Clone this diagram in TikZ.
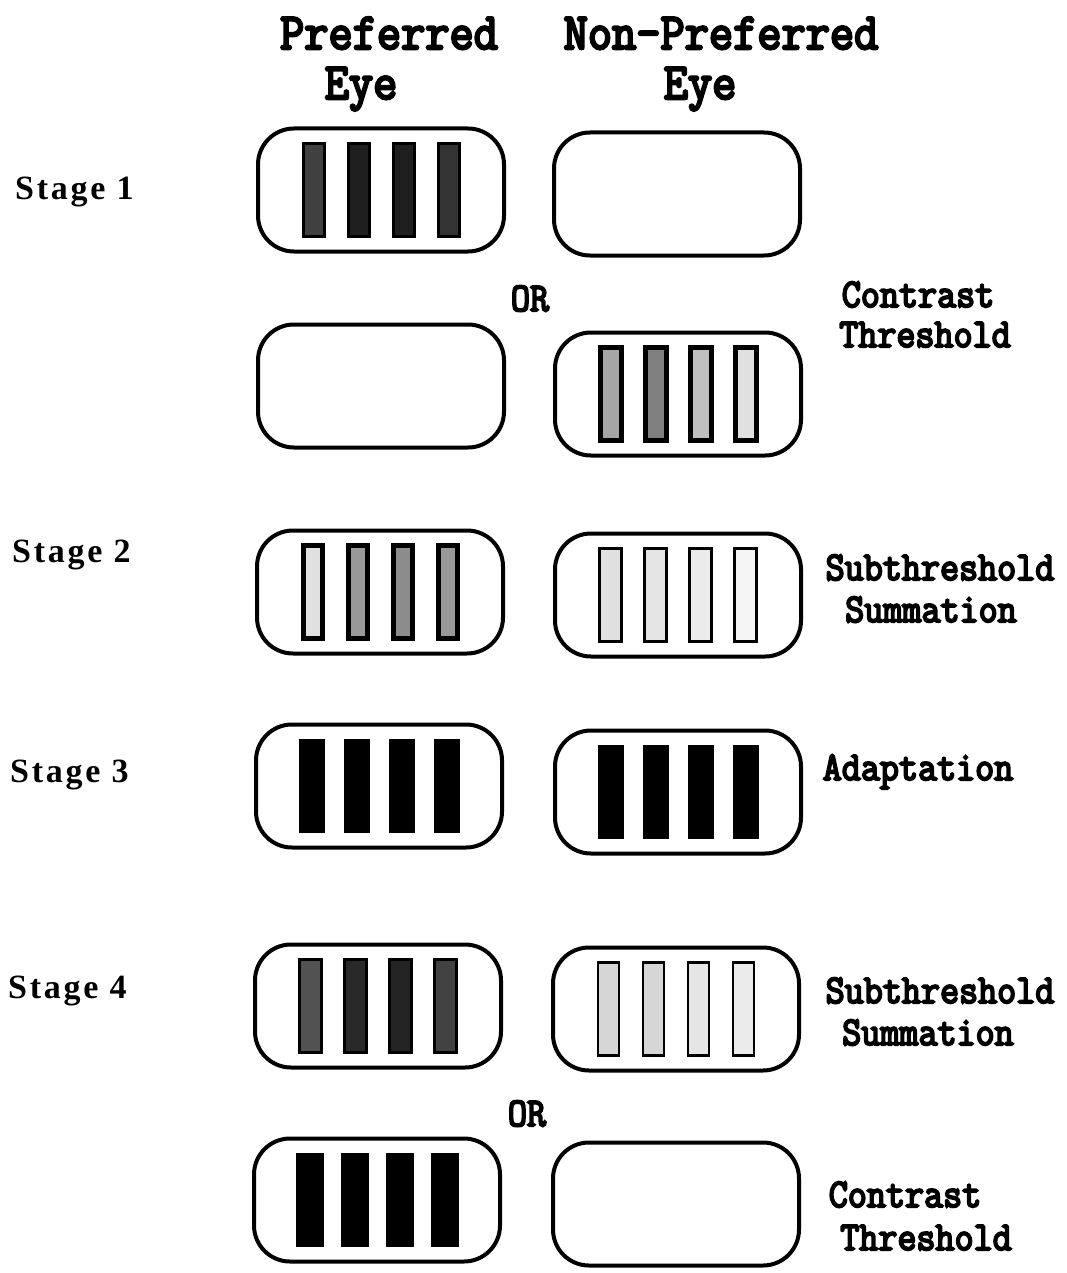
\documentclass[tikz,border=0pt]{standalone}
\usepackage{fontspec}
\usepackage{graphicx}
\newfontfamily\stagef[LetterSpace=8]{Liberation Serif}
\newfontfamily\typew[FakeBold=5]{Latin Modern Mono}
\tikzset{
  x=1pt, y=-1pt,
  eyebox/.style={draw, line width=4pt, rounded corners=36pt, minimum width=246pt, minimum height=123pt, inner sep=0pt},
  barbox/.style={draw, inner sep=0pt, minimum width=23pt, minimum height=93pt},
  head/.style={font=\typew\fontsize{47}{47}\selectfont, anchor=base, inner sep=0pt},
  side/.style={font=\typew\fontsize{37}{37}\selectfont, anchor=base, inner sep=0pt},
  stagelab/.style={font=\stagef\bfseries\fontsize{34}{34}\selectfont, anchor=base west, inner sep=0pt},
}
% \barset{box}{line width}{bar width}{fill list}
\newcommand{\barset}[4]{%
  \foreach \f [count=\i] in {#4} {
    \node[barbox, line width=#2, minimum width=#3, fill=\f] (#1-\i) at ([xshift={(\i-2.5)*45pt}]#1.center) {};
  }%
}
\newcommand{\tall}[1]{\scalebox{1}[1.1]{#1}}
\begin{document}
\begin{tikzpicture}
\useasboundingbox (0,0) rectangle (1066,1273);
\fill[white] (0,0) rectangle (1066,1273);

% headers
\node[head] (hp1) at (389,49) {\tall{Preferred}};
\node[head] (hp2) at (361,99) {\tall{Eye}};
\node[head] (hn1) at (721,49) {\tall{Non-Preferred}};
\node[head] (hn2) at (700,99) {\tall{Eye}};

% stage labels
\node[stagelab] (st1) at (15,200) {Stage 1};
\node[stagelab] (st2) at (12,562) {Stage 2};
\node[stagelab] (st3) at (10,782) {Stage 3};
\node[stagelab] (st4) at (8,998) {Stage 4};

% boxes
\node[eyebox] (b1l) at (381,190) {};
\node[eyebox] (b1r) at (677,194) {};
\node[eyebox] (b2l) at (381,386) {};
\node[eyebox] (b2r) at (678,394) {};
\node[eyebox] (s2l) at (380,592) {};
\node[eyebox] (s2r) at (678,595) {};
\node[eyebox] (s3l) at (379,786) {};
\node[eyebox] (s3r) at (678,792) {};
\node[eyebox] (s4l) at (378,1006) {};
\node[eyebox] (s4r) at (676,1009) {};
\node[eyebox] (b5l) at (377,1200) {};
\node[eyebox] (b5r) at (676,1204) {};

% bars
\barset{b1l}{3pt}{21pt}{black!75,black!88,black!88,black!80}
\barset{b2r}{5pt}{21pt}{black!35,black!50,black!25,black!12}
\barset{s2l}{5pt}{19pt}{black!12,black!40,black!45,black!40}
\barset{s2r}{2.5pt}{22pt}{black!12,black!10,black!8,black!4}
\barset{s3l}{0pt}{25pt}{black,black,black,black}
\barset{s3r}{0pt}{25pt}{black,black,black,black}
\barset{s4l}{3pt}{22pt}{black!68,black!84,black!86,black!74}
\barset{s4r}{2.5pt}{21pt}{black!16,black!16,black!10,black!8}
\barset{b5l}{0pt}{27pt}{black,black,black,black}

% OR
\node[side] (or1) at (530,311) {\tall{OR}};
\node[side] (or2) at (527,1126) {\tall{OR}};

% side labels
\node[side] (c1a) at (918,307) {\tall{Contrast}};
\node[side] (c1b) at (925,347) {\tall{Threshold}};
\node[side] (sa1) at (940,580) {\tall{Subthreshold}};
\node[side] (sa2) at (931,622) {\tall{Summation}};
\node[side] (ad) at (918,780) {\tall{Adaptation}};
\node[side] (sb1) at (940,1003) {\tall{Subthreshold}};
\node[side] (sb2) at (928,1045) {\tall{Summation}};
\node[side] (c2a) at (905,1207) {\tall{Contrast}};
\node[side] (c2b) at (926,1250) {\tall{Threshold}};
\end{tikzpicture}
\end{document}
